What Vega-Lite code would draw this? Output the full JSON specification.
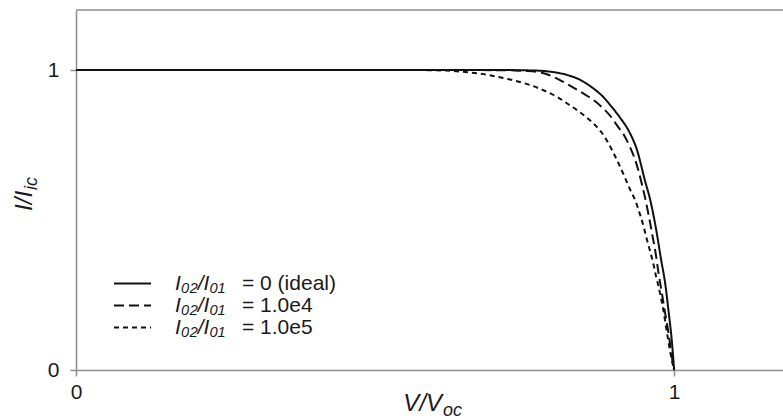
{
  "$schema": "https://vega.github.io/schema/vega-lite/v6.json",
  "width": 707,
  "height": 360,
  "autosize": {"type": "none"},
  "padding": {"left": 76, "top": 10, "right": 0, "bottom": 49},
  "background": "white",
  "config": {
    "view": {"stroke": null},
    "font": "Liberation Sans",
    "axis": {
      "grid": false,
      "domainColor": "#8c8c8c",
      "domainWidth": 1.5,
      "tickColor": "#8c8c8c",
      "tickWidth": 1.5,
      "tickSize": 6,
      "labelFont": "Liberation Sans",
      "labelFontSize": 21,
      "labelColor": "#1a1a1a",
      "labelFlush": false,
      "format": "d",
      "title": null
    },
    "legend": {
      "orient": "none",
      "legendY": 263,
      "padding": 0,
      "title": null,
      "symbolType": "M-2,0H2",
      "symbolSize": 342,
      "symbolStrokeWidth": 2,
      "symbolStrokeColor": "#111111",
      "labelFont": "Liberation Sans",
      "labelFontSize": 21,
      "labelColor": "#1a1a1a",
      "labelOffset": 32,
      "rowPadding": 0
    }
  },
  "layer": [
    {
      "data": {"values": [{}]},
      "mark": {"type": "rule", "color": "#8c8c8c", "strokeWidth": 1.5},
      "encoding": {"y": {"datum": 1.2, "type": "quantitative", "scale": {"domain": [0, 1.2]}}}
    },
    {
      "data": {"values": [{"lab": "= 0 (ideal)"}, {"lab": "= 1.0e4"}, {"lab": "= 1.0e5"}]},
      "mark": {"type": "point", "opacity": 0},
      "encoding": {
        "color": {
          "field": "lab",
          "type": "nominal",
          "scale": {"domain": ["= 0 (ideal)", "= 1.0e4", "= 1.0e5"], "range": ["#111111", "#111111", "#111111"]},
          "legend": {"legendX": 113, "symbolOpacity": 0, "labelFontStyle": "normal"}
        }
      }
    },
    {
      "data": {
        "values": [
          {"s": "0 (ideal)", "v": 0, "i": 1},
          {"s": "0 (ideal)", "v": 0.5, "i": 1},
          {"s": "0 (ideal)", "v": 0.7, "i": 1},
          {"s": "0 (ideal)", "v": 0.75, "i": 0.999},
          {"s": "0 (ideal)", "v": 0.78, "i": 0.997},
          {"s": "0 (ideal)", "v": 0.798, "i": 0.993},
          {"s": "0 (ideal)", "v": 0.82, "i": 0.984},
          {"s": "0 (ideal)", "v": 0.843, "i": 0.967},
          {"s": "0 (ideal)", "v": 0.862, "i": 0.943},
          {"s": "0 (ideal)", "v": 0.881, "i": 0.911},
          {"s": "0 (ideal)", "v": 0.896, "i": 0.876},
          {"s": "0 (ideal)", "v": 0.91, "i": 0.84},
          {"s": "0 (ideal)", "v": 0.926, "i": 0.79},
          {"s": "0 (ideal)", "v": 0.938, "i": 0.733},
          {"s": "0 (ideal)", "v": 0.951, "i": 0.633},
          {"s": "0 (ideal)", "v": 0.96, "i": 0.567},
          {"s": "0 (ideal)", "v": 0.971, "i": 0.456},
          {"s": "0 (ideal)", "v": 0.978, "i": 0.37},
          {"s": "0 (ideal)", "v": 0.985, "i": 0.289},
          {"s": "0 (ideal)", "v": 0.991, "i": 0.19},
          {"s": "0 (ideal)", "v": 0.996, "i": 0.1},
          {"s": "0 (ideal)", "v": 1.0, "i": 0},
          {"s": "1.0e4", "v": 0, "i": 1},
          {"s": "1.0e4", "v": 0.6, "i": 1},
          {"s": "1.0e4", "v": 0.72, "i": 0.999},
          {"s": "1.0e4", "v": 0.75, "i": 0.997},
          {"s": "1.0e4", "v": 0.776, "i": 0.992},
          {"s": "1.0e4", "v": 0.795, "i": 0.98},
          {"s": "1.0e4", "v": 0.814, "i": 0.961},
          {"s": "1.0e4", "v": 0.83, "i": 0.943},
          {"s": "1.0e4", "v": 0.848, "i": 0.922},
          {"s": "1.0e4", "v": 0.865, "i": 0.9},
          {"s": "1.0e4", "v": 0.881, "i": 0.873},
          {"s": "1.0e4", "v": 0.894, "i": 0.845},
          {"s": "1.0e4", "v": 0.906, "i": 0.811},
          {"s": "1.0e4", "v": 0.917, "i": 0.78},
          {"s": "1.0e4", "v": 0.926, "i": 0.744},
          {"s": "1.0e4", "v": 0.934, "i": 0.705},
          {"s": "1.0e4", "v": 0.94, "i": 0.667},
          {"s": "1.0e4", "v": 0.946, "i": 0.62},
          {"s": "1.0e4", "v": 0.951, "i": 0.578},
          {"s": "1.0e4", "v": 0.957, "i": 0.52},
          {"s": "1.0e4", "v": 0.963, "i": 0.456},
          {"s": "1.0e4", "v": 0.969, "i": 0.39},
          {"s": "1.0e4", "v": 0.974, "i": 0.322},
          {"s": "1.0e4", "v": 0.98, "i": 0.25},
          {"s": "1.0e4", "v": 0.985, "i": 0.189},
          {"s": "1.0e4", "v": 0.99, "i": 0.13},
          {"s": "1.0e4", "v": 0.994, "i": 0.075},
          {"s": "1.0e4", "v": 0.9985, "i": 0.015},
          {"s": "1.0e4", "v": 1.0, "i": 0},
          {"s": "1.0e5", "v": 0, "i": 1},
          {"s": "1.0e5", "v": 0.55, "i": 1},
          {"s": "1.0e5", "v": 0.62, "i": 0.998},
          {"s": "1.0e5", "v": 0.647, "i": 0.994},
          {"s": "1.0e5", "v": 0.675, "i": 0.988},
          {"s": "1.0e5", "v": 0.703, "i": 0.978},
          {"s": "1.0e5", "v": 0.73, "i": 0.966},
          {"s": "1.0e5", "v": 0.759, "i": 0.95},
          {"s": "1.0e5", "v": 0.782, "i": 0.932},
          {"s": "1.0e5", "v": 0.804, "i": 0.911},
          {"s": "1.0e5", "v": 0.82, "i": 0.89},
          {"s": "1.0e5", "v": 0.837, "i": 0.867},
          {"s": "1.0e5", "v": 0.851, "i": 0.846},
          {"s": "1.0e5", "v": 0.865, "i": 0.822},
          {"s": "1.0e5", "v": 0.877, "i": 0.796},
          {"s": "1.0e5", "v": 0.887, "i": 0.767},
          {"s": "1.0e5", "v": 0.897, "i": 0.73},
          {"s": "1.0e5", "v": 0.907, "i": 0.689},
          {"s": "1.0e5", "v": 0.917, "i": 0.645},
          {"s": "1.0e5", "v": 0.926, "i": 0.603},
          {"s": "1.0e5", "v": 0.935, "i": 0.565},
          {"s": "1.0e5", "v": 0.943, "i": 0.518},
          {"s": "1.0e5", "v": 0.949, "i": 0.478},
          {"s": "1.0e5", "v": 0.954, "i": 0.438},
          {"s": "1.0e5", "v": 0.96, "i": 0.395},
          {"s": "1.0e5", "v": 0.965, "i": 0.356},
          {"s": "1.0e5", "v": 0.97, "i": 0.31},
          {"s": "1.0e5", "v": 0.974, "i": 0.278},
          {"s": "1.0e5", "v": 0.978, "i": 0.24},
          {"s": "1.0e5", "v": 0.982, "i": 0.2},
          {"s": "1.0e5", "v": 0.986, "i": 0.15},
          {"s": "1.0e5", "v": 0.99, "i": 0.1},
          {"s": "1.0e5", "v": 0.994, "i": 0.055},
          {"s": "1.0e5", "v": 0.997, "i": 0.025},
          {"s": "1.0e5", "v": 1.0, "i": 0}
        ]
      },
      "mark": {"type": "line", "interpolate": "monotone", "color": "#111111", "strokeWidth": 2},
      "encoding": {
        "x": {"field": "v", "type": "quantitative", "scale": {"domain": [0, 1.182], "nice": false, "zero": false}, "axis": {"values": [0, 1], "labelPadding": 5}},
        "y": {"field": "i", "type": "quantitative", "scale": {"domain": [0, 1.2], "nice": false}, "axis": {"values": [0, 1], "labelPadding": 11}},
        "strokeDash": {
          "field": "s",
          "type": "nominal",
          "scale": {
            "domain": ["0 (ideal)", "1.0e4", "1.0e5"],
            "range": [[1, 0], [10, 5], [5, 4]]
          },
          "legend": {"legendX": 46, "labelExpr": "'I₀₂/I₀₁'", "labelFontStyle": "italic"}
        }
      }
    },
    {
      "data": {"values": [{}]},
      "mark": {"type": "text", "text": "V/V", "font": "Liberation Sans", "fontSize": 24, "fontStyle": "italic", "align": "right", "baseline": "alphabetic", "dy": 41, "color": "#1a1a1a"},
      "encoding": {"x": {"datum": 0.612, "type": "quantitative"}, "y": {"datum": 0, "type": "quantitative"}}
    },
    {
      "data": {"values": [{}]},
      "mark": {"type": "text", "text": "oc", "font": "Liberation Sans", "fontSize": 18, "fontStyle": "italic", "align": "left", "baseline": "alphabetic", "dx": 1, "dy": 46, "color": "#1a1a1a"},
      "encoding": {"x": {"datum": 0.612, "type": "quantitative"}, "y": {"datum": 0, "type": "quantitative"}}
    },
    {
      "data": {"values": [{}]},
      "mark": {"type": "text", "text": "I/I", "font": "Liberation Sans", "fontSize": 24, "fontStyle": "italic", "angle": 270, "align": "right", "baseline": "alphabetic", "dy": -44, "color": "#1a1a1a"},
      "encoding": {"x": {"datum": 0, "type": "quantitative"}, "y": {"datum": 0.597, "type": "quantitative"}}
    },
    {
      "data": {"values": [{}]},
      "mark": {"type": "text", "text": "ic", "font": "Liberation Sans", "fontSize": 18, "fontStyle": "italic", "angle": 270, "align": "left", "baseline": "alphabetic", "dx": 1, "dy": -39, "color": "#1a1a1a"},
      "encoding": {"x": {"datum": 0, "type": "quantitative"}, "y": {"datum": 0.597, "type": "quantitative"}}
    }
  ]
}
